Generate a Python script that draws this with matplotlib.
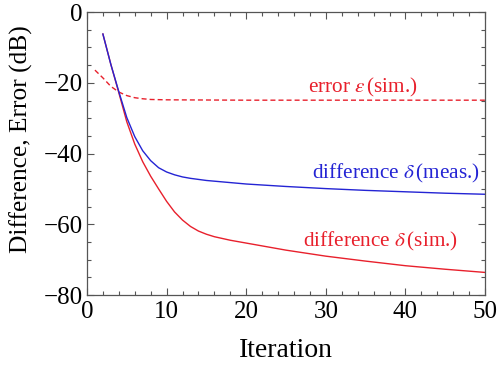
import matplotlib
matplotlib.use("Agg")
import matplotlib.pyplot as plt
from matplotlib.ticker import MultipleLocator

plt.rcParams['font.family'] = ['Liberation Serif', 'DejaVu Serif']
plt.rcParams['mathtext.fontset'] = 'stix'

# Data
err_x = [1, 2, 3, 4, 5, 6, 7, 8, 10, 15, 20, 30, 40, 50]
err_sim = [-16.4, -18.6, -21.0, -22.6, -23.6, -24.2, -24.5, -24.7, -24.8, -24.85, -24.9, -24.9, -24.9, -24.9]

diff_x = [2, 3, 4, 5, 6, 7, 8, 9, 10, 11, 12, 13, 14, 15, 16, 17, 18, 20, 25, 30, 35, 40, 45, 50]
diff_meas = [-6.2, -14.8, -22.5, -29.8, -35.2, -39.2, -42.0, -44.0, -45.2, -46.0, -46.6, -47.0,
             -47.3, -47.6, -47.8, -48.0, -48.2, -48.6, -49.3, -49.9, -50.4, -50.8, -51.2, -51.5]
diff_sim = [-6.2, -14.8, -22.8, -31.0, -37.3, -42.3, -46.4, -50.0, -53.5, -56.5, -58.8, -60.6,
            -61.9, -62.8, -63.5, -64.0, -64.5, -65.3, -67.3, -69.0, -70.4, -71.7, -72.7, -73.6]

RED = '#e8202c'
BLUE = '#2424d4'

fig = plt.figure(figsize=(4.97, 3.67), dpi=100)
ax = fig.add_axes([0.175, 0.196, 0.801, 0.771])

ax.plot(err_x, err_sim, color=RED, lw=1.0, dashes=(3.6, 2.2))
ax.plot(diff_x, diff_sim, color=RED, lw=1.0)
ax.plot(diff_x, diff_meas, color=BLUE, lw=1.0)

ax.set_xlim(0, 50)
ax.set_ylim(-80, 0)
ax.xaxis.set_major_locator(MultipleLocator(10))
ax.xaxis.set_minor_locator(MultipleLocator(2))
ax.yaxis.set_major_locator(MultipleLocator(20))
ax.yaxis.set_minor_locator(MultipleLocator(5))
ax.tick_params(which='both', direction='in', top=True, right=True, color='#555555',
               labelsize=18)
ax.tick_params(axis='x', which='major', pad=4)
ax.tick_params(axis='y', which='major', pad=3)
ax.tick_params(which='major', length=5, width=0.8)
ax.tick_params(which='minor', length=3, width=0.8)
for s in ax.spines.values():
    s.set_color('#555555')
    s.set_linewidth(0.9)

ax.set_xlabel('Iteration', fontsize=20, labelpad=11)
ax.set_ylabel('Difference, Error (dB)', fontsize=18.3)
ax.yaxis.set_label_coords(-0.136, 0.551)

ax.text(34.7, -21.2, r'error $\varepsilon\,$(sim.)', color=RED, fontsize=15.3,
        ha='center', va='center')
ax.text(49.4, -45.5, r'difference $\delta\,$(meas.)', color=BLUE, fontsize=15.3,
        ha='right', va='center')
ax.text(46.6, -64.9, r'difference $\delta\,$(sim.)', color=RED, fontsize=15.3,
        ha='right', va='center')

fig.savefig('out.png', dpi=100)
